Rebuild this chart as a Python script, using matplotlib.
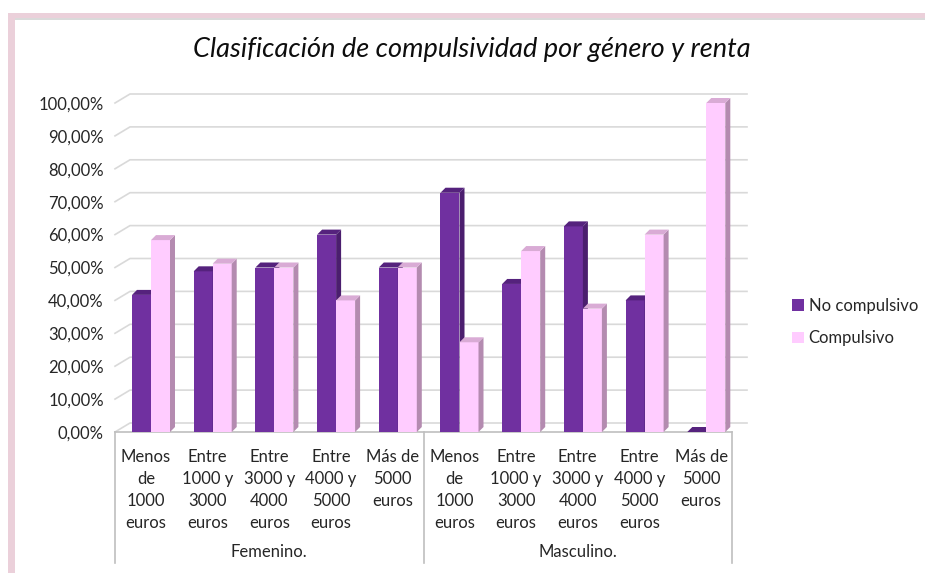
"""
Clasificación de compulsividad por género y renta — barras pseudo-3D.
Output: out.png (925x573 px)
"""
import matplotlib
matplotlib.use("Agg")
import matplotlib.pyplot as plt
from matplotlib.patches import Polygon, Rectangle, Patch

# ── data ──────────────────────────────────────────────────────────────────────
GENEROS = ["Femenino.", "Masculino."]
RENTAS = [
    "Menos\nde\n1000\neuros",
    "Entre\n1000 y\n3000\neuros",
    "Entre\n3000 y\n4000\neuros",
    "Entre\n4000 y\n5000\neuros",
    "Más de\n5000\neuros",
]
SERIES = ["No compulsivo", "Compulsivo"]
NO_COMP = [41.67, 48.84, 50.0, 60.0, 50.0, 72.73, 45.0, 62.5, 40.0, 0.0]
COMP    = [58.33, 51.16, 50.0, 40.0, 50.0, 27.27, 55.0, 37.5, 60.0, 100.0]
Y_TICKS = list(range(0, 101, 10))

# ── palette ───────────────────────────────────────────────────────────────────
NC_FRONT, NC_SIDE, NC_TOP = "#7030A0", "#4B1E6E", "#55227D"
C_FRONT,  C_SIDE,  C_TOP  = "#FFCCFF", "#B48BB0", "#D9ABD5"
C_GRID  = "#D9D9D9"
C_AXIS  = "#BFBFBF"
C_TEXT  = "#262626"
C_FRAME = "#EBD0DA"
FS = 12

plt.rcParams["font.family"] = ["Lato", "DejaVu Sans"]

# ── layout (pixels -> figure fractions) ───────────────────────────────────────
W, H, DPI = 925, 573, 100
X0, X1 = 115, 732        # front floor left / right
Y0, Y100 = 432, 103      # front 0 % / 100 %
fig = plt.figure(figsize=(W / DPI, H / DPI), dpi=DPI, facecolor="white")
ax = fig.add_axes([X0 / W, 1 - Y0 / H, (X1 - X0) / W, (Y0 - Y100) / H])
n_cat = len(NO_COMP)
ax.set_xlim(-0.5, n_cat - 0.5)
ax.set_ylim(0, 100)

PX_X = (X1 - X0) / n_cat          # pixels per category
PX_Y = (Y0 - Y100) / 100          # pixels per percent

# depth offsets (in data units)
DXB, DYB = 15 / PX_X, 9 / PX_Y    # back wall
SDX, SDY = 5 / PX_X, 5 / PX_Y     # bar side/top
BW = 19 / PX_X                    # bar front width
OFF = 17 / PX_X                   # first bar left edge from category start

# ── frame ─────────────────────────────────────────────────────────────────────
fig.patches.append(Rectangle((8 / W, 0), 7 / W, 1 - 13 / H, transform=fig.transFigure,
                             facecolor=C_FRAME, edgecolor="none"))
fig.patches.append(Rectangle((8 / W, 1 - 18 / H), 1, 5 / H, transform=fig.transFigure,
                             facecolor=C_FRAME, edgecolor="none"))
fig.patches.append(Rectangle((15 / W, 1 - 19.5 / H), 1, 1.5 / H, transform=fig.transFigure,
                             facecolor="#DADADA", edgecolor="none"))

# ── back wall gridlines ───────────────────────────────────────────────────────
for v in Y_TICKS:
    ax.plot([-0.5, -0.5 + DXB, n_cat - 0.5 + DXB], [v, v + DYB, v + DYB],
            color=C_GRID, lw=1.2, clip_on=False, zorder=0)
ax.plot([-0.5, n_cat - 0.5], [0, 0], color=C_AXIS, lw=1.2, clip_on=False, zorder=1)


# ── bars ──────────────────────────────────────────────────────────────────────
def bar3d(x0, h, front, side, top, z):
    ax.bar(x0, h, width=BW, align="edge", color=front, edgecolor="none", zorder=z)
    ax.add_patch(Polygon([(x0 + BW, 0), (x0 + BW + SDX, SDY),
                          (x0 + BW + SDX, h + SDY), (x0 + BW, h)],
                         closed=True, facecolor=side, edgecolor="none",
                         zorder=z, clip_on=False))
    ax.add_patch(Polygon([(x0, h), (x0 + SDX, h + SDY),
                          (x0 + BW + SDX, h + SDY), (x0 + BW, h)],
                         closed=True, facecolor=top, edgecolor="none",
                         zorder=z, clip_on=False))


for i, (nc, c) in enumerate(zip(NO_COMP, COMP)):
    left = i - 0.5 + OFF
    bar3d(left, nc, NC_FRONT, NC_SIDE, NC_TOP, 3)
    bar3d(left + BW, c, C_FRONT, C_SIDE, C_TOP, 4)

# ── axes / ticks ──────────────────────────────────────────────────────────────
for sp in ax.spines.values():
    sp.set_visible(False)
ax.set_yticks(Y_TICKS)
ax.set_yticklabels([f"{v:.2f}%".replace(".", ",") for v in Y_TICKS])
ax.tick_params(axis="y", length=0, pad=8, labelsize=FS, labelcolor=C_TEXT)
ax.set_xticks(range(n_cat))
ax.set_xticklabels(RENTAS * len(GENEROS), linespacing=1.47)
ax.tick_params(axis="x", length=0, pad=12, labelsize=FS, labelcolor=C_TEXT)

# category box separators
sep_bot = -(563 - Y0) / (Y0 - Y100)
trans = ax.get_xaxis_transform()
for xs in [-0.5, len(RENTAS) - 0.5, n_cat - 0.5]:
    ax.plot([xs, xs], [0, sep_bot], color=C_AXIS, lw=1.2, transform=trans, clip_on=False)

# group labels
grp_y = -(552 - Y0) / (Y0 - Y100)
for g, name in enumerate(GENEROS):
    xc = g * len(RENTAS) + (len(RENTAS) - 1) / 2
    ax.text(xc, grp_y, name, transform=trans, ha="center", va="center",
            fontsize=FS, color=C_TEXT)

# ── title & legend ────────────────────────────────────────────────────────────
fig.text(472 / W, 1 - 50 / H, "Clasificación de compulsividad por género y renta",
         ha="center", va="center", fontsize=19.5, style="italic", color="#0D0D0D")

handles = [Patch(facecolor=NC_FRONT), Patch(facecolor=C_FRONT)]
fig.legend(handles, SERIES, loc="center left", bbox_to_anchor=(777 / W, 1 - 322 / H),
           frameon=False, fontsize=FS, handlelength=0.7, handleheight=0.7,
           handletextpad=0.3, labelspacing=1.0, labelcolor=C_TEXT)

fig.savefig("out.png", dpi=DPI, facecolor="white")
plt.close(fig)
